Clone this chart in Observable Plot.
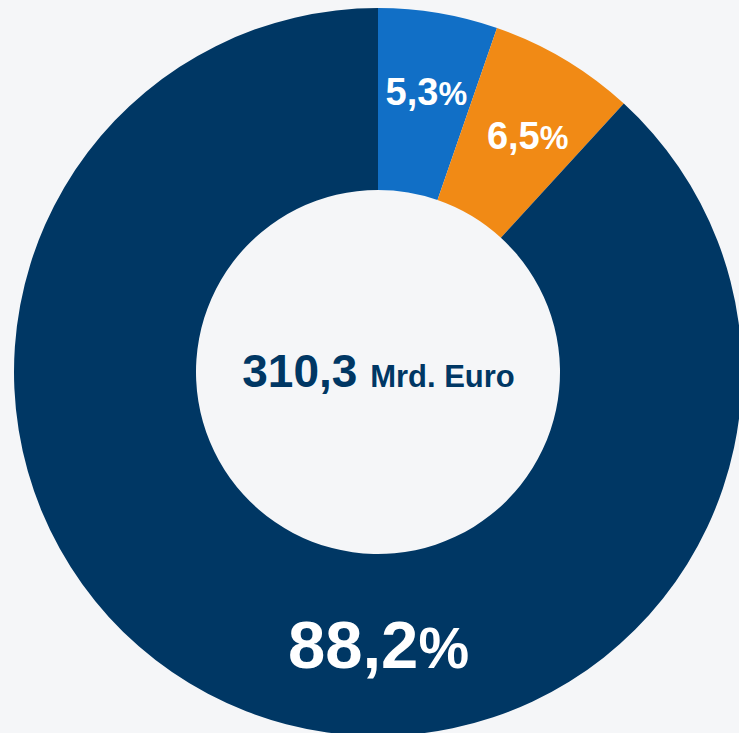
<!DOCTYPE html>
<html>
<head>
<meta charset="utf-8">
<script src="https://cdn.jsdelivr.net/npm/d3@7"></script>
<script src="https://cdn.jsdelivr.net/npm/@observablehq/plot@0.6"></script>
<style>
  html, body { margin: 0; padding: 0; background: #f5f6f8; overflow: hidden; }
  #chart svg { display: block; }
</style>
</head>
<body>
<div id="chart"></div>
<script>
// ---- data ----
const categories = ["Segment A", "Segment B", "Segment C"];
const values = [5.3, 6.5, 88.2];          // percent shares
const colors = ["#116fc6", "#f18a15", "#003764"];
const totalValue = 310.3;
const totalUnit = "Mrd. Euro";

// ---- layout config ----
const W = 739, H = 733;
const cxPx = 378, cyPx = 372, Rpx = 364;   // centre and outer radius in pixels
const innerRatio = 182 / 364;
const labelAngles = [9.7, 32.3, 180];      // degrees clockwise from 12 o'clock
const labelRadii = [0.78, 0.767, 0.753];   // in units of outer radius
const labelFont = [38, 38, 67];

const fmt = v => v.toFixed(1).replace(".", ",");

const arcs = d3.pie().sort(null).value(d => d)(values);

const labels = arcs.map((a, i) => {
  const ang = labelAngles[i] * Math.PI / 180;
  return {
    category: categories[i],
    x: labelRadii[i] * Math.sin(ang),
    y: labelRadii[i] * Math.cos(ang),
    text: fmt(values[i]) + "%",
    size: labelFont[i]
  };
});

const donut = (index, scales) => {
  const {x, y} = scales;
  const cx = x(0), cy = y(0), R = x(1) - x(0), r = R * innerRatio;
  const g = d3.create("svg:g").attr("transform", `translate(${cx},${cy})`);
  g.selectAll("path")
    .data(arcs)
    .join("path")
    .attr("d", d3.arc().innerRadius(r).outerRadius(R))
    .attr("fill", (d, i) => colors[i]);
  return g.node();
};

const chart = Plot.plot({
  width: W,
  height: H,
  margin: 0,
  style: { background: "#f5f6f8", fontFamily: "'Liberation Sans', Arial, sans-serif" },
  x: { domain: [-cxPx / Rpx, (W - cxPx) / Rpx], range: [0, W], axis: null },
  y: { domain: [-(H - cyPx) / Rpx, cyPx / Rpx], range: [H, 0], axis: null },
  marks: [
    donut,
    Plot.text(labels, {
      x: "x", y: "y", text: "text",
      fill: "white", fontWeight: "bold",
      fontSize: d => d.size,
      textAnchor: "middle",
      className: "pct-label"
    }),
    Plot.text([{x: 0, y: 0, text: fmt(totalValue) + " " + totalUnit}], {
      x: "x", y: "y", text: "text",
      fill: "#003764", fontWeight: "bold", fontSize: 46,
      textAnchor: "middle",
      className: "total-label"
    })
  ]
});

// smaller % sign and unit via tspans
chart.querySelectorAll(".pct-label text").forEach(t => {
  const s = t.textContent;
  t.textContent = "";
  const num = document.createElementNS("http://www.w3.org/2000/svg", "tspan");
  num.textContent = s.slice(0, -1);
  const pc = document.createElementNS("http://www.w3.org/2000/svg", "tspan");
  pc.textContent = "%";
  pc.setAttribute("font-size", "0.85em");
  t.appendChild(num); t.appendChild(pc);
});
chart.querySelectorAll(".total-label text").forEach(t => {
  const s = t.textContent;
  const k = s.indexOf(" ");
  t.textContent = "";
  const num = document.createElementNS("http://www.w3.org/2000/svg", "tspan");
  num.textContent = s.slice(0, k + 1);
  const unit = document.createElementNS("http://www.w3.org/2000/svg", "tspan");
  unit.textContent = s.slice(k + 1);
  unit.setAttribute("font-size", "31");
  t.appendChild(num); t.appendChild(unit);
});

document.getElementById("chart").appendChild(chart);
</script>
</body>
</html>
